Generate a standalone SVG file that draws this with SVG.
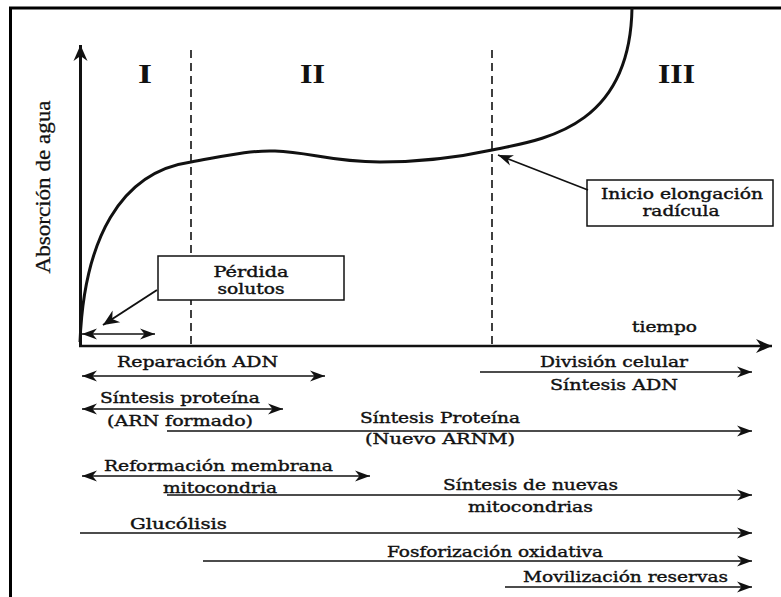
<svg xmlns="http://www.w3.org/2000/svg" width="781" height="597" viewBox="0 0 781 597">
<style>
.t{font-family:"DejaVu Serif","Liberation Serif",serif;font-size:15px;fill:#111;stroke:#111;stroke-width:0.4;}
.s{font-size:14px;}
.r{font-family:"Liberation Serif","DejaVu Serif",serif;font-size:27px;font-weight:bold;fill:#111;}
.ax{font-family:"Liberation Serif","DejaVu Serif",serif;font-size:21px;fill:#111;stroke:#111;stroke-width:0.3;}
.ln{stroke:#111;stroke-width:1.6;fill:none;}
.box{fill:#fff;stroke:#111;stroke-width:1.5;}
.dash{stroke:#111;stroke-width:1.6;stroke-dasharray:8 5;fill:none;}
</style>
<defs>
<marker id="ah" markerUnits="userSpaceOnUse" markerWidth="18" markerHeight="14" viewBox="-16 -7 18 14" refX="0" refY="0" orient="auto-start-reverse">
<path d="M0,0 L-15,-5.5 L-10.5,0 L-15,5.5 Z" fill="#111"/>
</marker>
<marker id="ahb" markerUnits="userSpaceOnUse" markerWidth="20" markerHeight="16" viewBox="-18 -8 20 16" refX="0" refY="0" orient="auto">
<path d="M0,0 L-16,-7 L-11,0 L-16,7 Z" fill="#111"/>
</marker>
</defs>
<rect width="781" height="597" fill="#fff"/>
<g id="frame">
<line x1="9" y1="8" x2="781" y2="8" stroke="#000" stroke-width="3"/>
<line x1="10.5" y1="7" x2="10.5" y2="597" stroke="#000" stroke-width="3"/>
</g>
<g id="axes">
<line x1="80.5" y1="346" x2="80.5" y2="45" stroke="#111" stroke-width="3" marker-end="url(#ahb)"/>
<line x1="79" y1="346" x2="772" y2="346" stroke="#111" stroke-width="2.5" marker-end="url(#ahb)"/>
<text class="ax" transform="translate(50,187) rotate(-90)" text-anchor="middle" textLength="173" lengthAdjust="spacingAndGlyphs">Absorción de agua</text>
<text class="t" x="632" y="332" textLength="65" lengthAdjust="spacingAndGlyphs">tiempo</text>
</g>
<g id="phases">
<line class="dash" x1="191" y1="50" x2="191" y2="346"/>
<line class="dash" x1="492" y1="50" x2="492" y2="346"/>
<text class="r" x="138" y="83" textLength="14" lengthAdjust="spacingAndGlyphs">I</text>
<text class="r" x="300" y="83" textLength="25" lengthAdjust="spacingAndGlyphs">II</text>
<text class="r" x="658" y="83" textLength="37" lengthAdjust="spacingAndGlyphs">III</text>
</g>
<g id="curve">
<path d="M80,342 C84,240 120,172 191,162 C225,156 250,150 275,151 C310,152 330,162 380,162 C420,162 460,157 492,150 C540,140 630,130 632,8" stroke="#111" stroke-width="3" fill="none"/>
</g>
<g id="perdida">
<rect class="box" x="158" y="256" width="186" height="44"/>
<text class="t s" x="251" y="277" text-anchor="middle" textLength="75" lengthAdjust="spacingAndGlyphs">Pérdida</text>
<text class="t s" x="251" y="294" text-anchor="middle" textLength="67" lengthAdjust="spacingAndGlyphs">solutos</text>
</g>
<g id="inicio">
<rect class="box" x="587" y="180" width="186" height="46"/>
<text class="t s" x="682" y="199" text-anchor="middle" textLength="162" lengthAdjust="spacingAndGlyphs">Inicio elongación</text>
<text class="t s" x="681" y="216" text-anchor="middle" textLength="77" lengthAdjust="spacingAndGlyphs">radícula</text>
</g>
<g id="connectors">
<line x1="157" y1="290" x2="103" y2="325" stroke="#111" stroke-width="2" marker-end="url(#ahb)"/>
<line x1="588" y1="190" x2="498" y2="155" stroke="#111" stroke-width="1.6" marker-end="url(#ah)"/>
<line class="ln" x1="82" y1="334" x2="155" y2="334" stroke-width="2" marker-start="url(#ah)" marker-end="url(#ah)"/>
</g>
<g id="timeline">
<line class="ln" x1="82" y1="376" x2="325" y2="376" marker-start="url(#ah)" marker-end="url(#ah)"/>
<text class="t" x="117" y="367" textLength="161" lengthAdjust="spacingAndGlyphs">Reparación ADN</text>

<line class="ln" x1="480" y1="372" x2="752" y2="372" marker-end="url(#ah)"/>
<text class="t" x="540" y="367" textLength="148" lengthAdjust="spacingAndGlyphs">División celular</text>
<text class="t" x="550" y="390" textLength="128" lengthAdjust="spacingAndGlyphs">Síntesis ADN</text>

<line class="ln" x1="82" y1="409" x2="283" y2="409" marker-start="url(#ah)" marker-end="url(#ah)"/>
<text class="t" x="100" y="403" textLength="160" lengthAdjust="spacingAndGlyphs">Síntesis proteína</text>
<text class="t" x="107" y="426" textLength="146" lengthAdjust="spacingAndGlyphs">(ARN formado)</text>

<line class="ln" x1="167" y1="431" x2="752" y2="431" marker-end="url(#ah)"/>
<text class="t" x="360" y="423" textLength="160" lengthAdjust="spacingAndGlyphs">Síntesis Proteína</text>
<text class="t" x="365" y="444" textLength="150" lengthAdjust="spacingAndGlyphs">(Nuevo ARNM)</text>

<line class="ln" x1="82" y1="476" x2="370" y2="476" marker-start="url(#ah)" marker-end="url(#ah)"/>
<text class="t" x="104" y="471" textLength="229" lengthAdjust="spacingAndGlyphs">Reformación membrana</text>

<line class="ln" x1="167" y1="495" x2="752" y2="495" marker-end="url(#ah)"/>
<text class="t" x="163" y="493" textLength="114" lengthAdjust="spacingAndGlyphs">mitocondria</text>
<text class="t" x="443" y="490" textLength="175" lengthAdjust="spacingAndGlyphs">Síntesis de nuevas</text>
<text class="t" x="468" y="512" textLength="125" lengthAdjust="spacingAndGlyphs">mitocondrias</text>

<line class="ln" x1="80" y1="533" x2="752" y2="533" marker-end="url(#ah)"/>
<text class="t" x="130" y="529" textLength="97" lengthAdjust="spacingAndGlyphs">Glucólisis</text>

<line class="ln" x1="203" y1="561" x2="752" y2="561" marker-end="url(#ah)"/>
<text class="t" x="387" y="557" textLength="216" lengthAdjust="spacingAndGlyphs">Fosforización oxidativa</text>

<line class="ln" x1="505" y1="587" x2="752" y2="587" marker-end="url(#ah)"/>
<text class="t" x="523" y="582" textLength="205" lengthAdjust="spacingAndGlyphs">Movilización reservas</text>
</g>
</svg>
